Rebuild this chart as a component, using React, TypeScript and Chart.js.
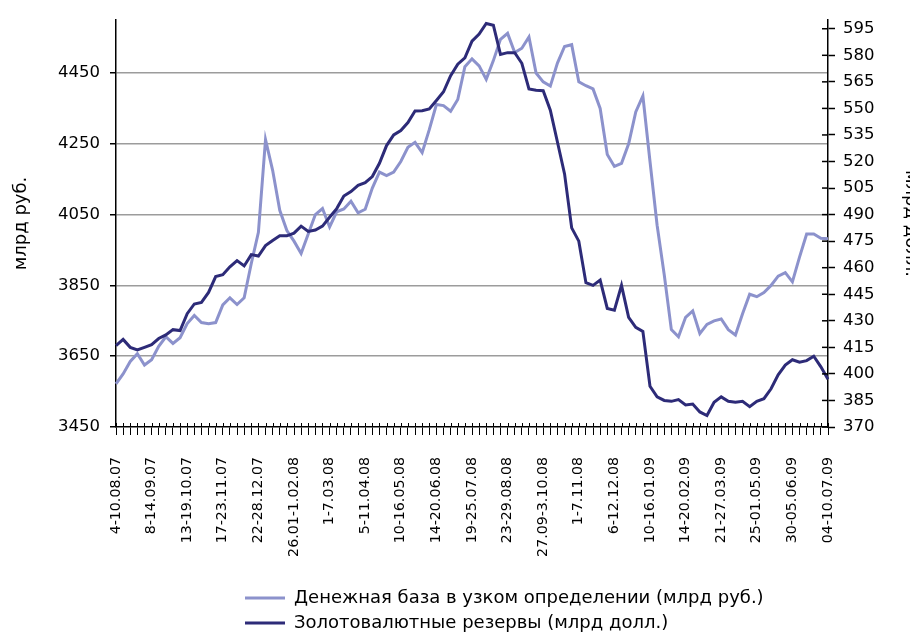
import { useEffect, useRef } from "react";
import { Chart, registerables } from "chart.js";

Chart.register(...registerables);

const FONT = "'DejaVu Sans', sans-serif";
Chart.defaults.font.family = FONT;
Chart.defaults.color = "#000";

const TICK_LABELS = [
  "4-10.08.07", "8-14.09.07", "13-19.10.07", "17-23.11.07", "22-28.12.07",
  "26.01-1.02.08", "1-7.03.08", "5-11.04.08", "10-16.05.08", "14-20.06.08",
  "19-25.07.08", "23-29.08.08", "27.09-3.10.08", "1-7.11.08", "6-12.12.08",
  "10-16.01.09", "14-20.02.09", "21-27.03.09", "25-01.05.09", "30-05.06.09",
  "04-10.07.09",
];
const LABEL_EVERY = 5;

const MONEY_BASE = [
  3572, 3600, 3635, 3657, 3625, 3640, 3678, 3705, 3686, 3702,
  3742, 3765, 3745, 3742, 3745, 3795, 3815, 3796, 3815, 3912,
  4000, 4262, 4175, 4062, 4005, 3975, 3940, 3995, 4050, 4067,
  4015, 4058, 4066, 4088, 4055, 4065, 4125, 4170, 4160, 4170,
  4200, 4240, 4254, 4225, 4290, 4361, 4358, 4342, 4375, 4468,
  4490, 4470, 4432, 4485, 4545, 4562, 4508, 4520, 4552, 4450,
  4425, 4413, 4478, 4525, 4530, 4425, 4414, 4405, 4350, 4220,
  4186, 4195, 4250, 4340, 4385, 4200, 4020, 3880, 3725, 3705,
  3760, 3778, 3714, 3740, 3750, 3755, 3725, 3710, 3770, 3825,
  3818, 3830, 3850, 3876, 3886, 3860, 3930, 3995, 3995, 3983,
  3982,
];

const RESERVES = [
  416, 419.5, 415, 413.5, 415, 416.5, 420, 422, 425, 424.5,
  434, 439.5, 440.4, 446, 455, 456, 460.5, 464, 461, 467.4,
  466.6, 472.5, 475.4, 478, 478, 479.5, 483.5, 480.5, 481.3, 483.5,
  488.5, 493.4, 500.5, 503, 506.5, 508, 511.5, 519, 529, 535,
  537.5, 542, 548.5, 548.7, 549.7, 554.5, 559.4, 568.5, 575, 578.5,
  588, 592, 598, 597, 580.5, 581.5, 581.5, 575.5, 561, 560.3,
  560, 549, 531, 513, 482.5, 475, 451.5, 450, 453, 437,
  436, 450, 432, 426.3, 424, 393, 387, 385, 384.5, 385.5,
  382.5, 383, 378.5, 376.5, 384, 387, 384.5, 384, 384.5, 381.5,
  384.5, 386, 391.6, 399.5, 405, 408, 406.6, 407.5, 410, 404,
  397,
];

const LEFT_TICKS = [3450, 3650, 3850, 4050, 4250, 4450];
const RIGHT_TICKS = [370, 385, 400, 415, 430, 445, 460, 475, 490, 505, 520, 535, 550, 565, 580, 595];

const SERIES_NAMES = [
  "Денежная база в узком определении (млрд руб.)",
  "Золотовалютные резервы (млрд долл.)",
];
const AXIS_TITLES = ["млрд руб.", "млрд долл."];

const CATEGORIES = MONEY_BASE.map((_, i) =>
  i % LABEL_EVERY === 0 ? TICK_LABELS[i / LABEL_EVERY] : ""
);

const LIGHT = "#8C92CC";
const DARK = "#2D2B78";
const LEGEND_LEFT = 238;
const LEGEND_TOP = 582;

const innerTicks = {
  id: "innerTicks",
  afterDraw(chart: any) {
    const { ctx, chartArea, scales } = chart;
    ctx.save();
    ctx.strokeStyle = "#000";
    ctx.lineWidth = 1;
    const xs = scales.x;
    xs.ticks.forEach((_: any, i: number) => {
      const px = Math.round(xs.getPixelForTick(i)) + 0.5;
      ctx.beginPath();
      ctx.moveTo(px, chartArea.bottom - 4);
      ctx.lineTo(px, chartArea.bottom);
      ctx.stroke();
    });
    const yr = scales.y1;
    ctx.lineWidth = 1.5;
    yr.ticks.forEach((_: any, i: number) => {
      const py = yr.getPixelForTick(i);
      ctx.beginPath();
      ctx.moveTo(chartArea.right - 6, py);
      ctx.lineTo(chartArea.right, py);
      ctx.stroke();
    });
    ctx.restore();
  },
};

const legendPlace = {
  id: "legendPlace",
  afterLayout(chart: any) {
    const lg = chart.legend;
    if (!lg) return;
    const w = lg.width;
    const h = lg.height;
    lg.left = LEGEND_LEFT;
    lg.right = LEGEND_LEFT + w;
    lg.top = LEGEND_TOP;
    lg.bottom = LEGEND_TOP + h;
  },
};

export default function App() {
  const ref = useRef<HTMLCanvasElement | null>(null);

  useEffect(() => {
    if (!ref.current) return;
    const chart = new Chart(ref.current, {
      type: "line",
      data: {
        labels: CATEGORIES,
        datasets: [
          {
            label: SERIES_NAMES[0],
            data: MONEY_BASE,
            yAxisID: "y",
            borderColor: LIGHT,
            backgroundColor: LIGHT,
            borderWidth: 3,
            pointRadius: 0,
            tension: 0,
            order: 1,
          },
          {
            label: SERIES_NAMES[1],
            data: RESERVES,
            yAxisID: "y1",
            borderColor: DARK,
            backgroundColor: DARK,
            borderWidth: 3,
            pointRadius: 0,
            tension: 0,
            order: 0,
          },
        ],
      },
      options: {
        animation: false,
        responsive: false,
        maintainAspectRatio: false,
        events: [],
        layout: { padding: { top: 17, left: 0, right: 0, bottom: 0 } },
        plugins: {
          legend: {
            position: "bottom",
            align: "start",
            fullSize: false,
            labels: {
              usePointStyle: true,
              pointStyle: "line",
              pointStyleWidth: 40,
              padding: 7,
              color: "#000",
              font: { size: 18, family: FONT },
              sort: (a: any, b: any) => a.datasetIndex - b.datasetIndex,
            },
          },
          tooltip: { enabled: false },
        },
        scales: {
          x: {
            type: "category",
            offset: false,
            grid: {
              display: true,
              drawOnChartArea: false,
              tickLength: 8,
              tickColor: "#000",
              tickWidth: 1,
            },
            border: { color: "#000", width: 1.5 },
            ticks: {
              autoSkip: false,
              maxRotation: 90,
              minRotation: 90,
              padding: 22,
              color: "#000",
              font: { size: 14.2, family: FONT },
            },
            afterFit: (s: any) => {
              s.height = 146;
            },
          },
          y: {
            type: "linear",
            position: "left",
            min: 3450,
            max: 4600,
            afterBuildTicks: (s: any) => {
              s.ticks = LEFT_TICKS.map((v) => ({ value: v }));
            },
            grid: {
              color: (c: any) => (c.tick && c.tick.value === LEFT_TICKS[0] ? "rgba(0,0,0,0)" : "#9c9c9c"),
              lineWidth: 1.5,
              tickLength: 6,
              tickColor: "#000",
              tickWidth: 1.5,
            },
            border: { color: "#000", width: 1.5 },
            ticks: {
              padding: 10,
              color: "#000",
              font: { size: 16.5, family: FONT },
              callback: (v: any) => String(v),
            },
            title: {
              display: true,
              text: AXIS_TITLES[0],
              color: "#000",
              font: { size: 18, family: FONT },
              padding: { top: 11, bottom: 0 },
            },
            afterFit: (s: any) => {
              s.width = 116;
            },
          },
          y1: {
            type: "linear",
            position: "right",
            min: 370,
            max: 600,
            afterBuildTicks: (s: any) => {
              s.ticks = RIGHT_TICKS.map((v) => ({ value: v }));
            },
            grid: {
              drawOnChartArea: false,
              tickLength: 7,
              tickColor: "#000",
              tickWidth: 1.5,
            },
            border: { color: "#000", width: 1.5 },
            ticks: {
              padding: 8,
              color: "#000",
              font: { size: 16.5, family: FONT },
              callback: (v: any) => String(v),
            },
            title: {
              display: true,
              text: AXIS_TITLES[1],
              color: "#000",
              font: { size: 18, family: FONT },
              padding: { top: -11, bottom: 0 },
            },
            afterFit: (s: any) => {
              s.width = 82;
            },
          },
        },
      } as any,
      plugins: [innerTicks, legendPlace],
    });
    return () => chart.destroy();
  }, []);

  return (
    <div style={{ position: "fixed", left: 0, top: 0, width: 910, height: 633, background: "#fff" }}>
      <canvas ref={ref} width={910} height={633} style={{ display: "block" }} />
    </div>
  );
}
